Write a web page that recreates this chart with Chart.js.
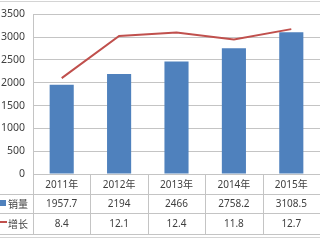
<!DOCTYPE html>
<html>
<head>
<meta charset="utf-8">
<script src="https://cdn.jsdelivr.net/npm/chart.js@4"></script>
<style>
  html, body { margin: 0; padding: 0; background: #fff; overflow: hidden; }
  #wrap { width: 320px; height: 240px; position: relative; }
</style>
</head>
<body>
<div id="wrap"><canvas id="chart" width="320" height="240"></canvas></div>
<script>
const years = ['2011年', '2012年', '2013年', '2014年', '2015年'];
const sales = [1957.7, 2194, 2466, 2758.2, 3108.5];
const growth = [8.4, 12.1, 12.4, 11.8, 12.7];
const salesText = ['1957.7', '2194', '2466', '2758.2', '3108.5'];
const growthText = ['8.4', '12.1', '12.4', '11.8', '12.7'];

const blue = '#4F81BD';
const red = '#C0504D';
const textColor = '#404040';
const lineGray = '#c4c4c4';
const font = '10px "Noto Sans", "Noto Sans CJK SC", sans-serif';

// draws the data table under the plot, like Excel does
const dataTable = {
    id: 'dataTable',
    afterDraw(chart) {
        const ctx = chart.ctx;
        const area = chart.chartArea;
        const colW = (area.right - area.left) / years.length;
        const rows = [area.bottom, 194, 213, 234];

        ctx.save();
        ctx.strokeStyle = lineGray;
        ctx.lineWidth = 1;

        // horizontal lines
        ctx.beginPath();
        ctx.moveTo(area.left, rows[0] + 0.5);
        ctx.lineTo(area.right, rows[0] + 0.5);
        for (let r = 1; r < rows.length; r++) {
            ctx.moveTo(0, rows[r] + 0.5);
            ctx.lineTo(area.right, rows[r] + 0.5);
        }
        // vertical lines
        for (let i = 0; i <= years.length; i++) {
            const x = Math.round(area.left + i * colW) + 0.5;
            ctx.moveTo(x, rows[0]);
            ctx.lineTo(x, rows[3]);
        }
        ctx.stroke();

        // outer frame lines top and bottom
        ctx.strokeStyle = '#d4d4d4';
        ctx.beginPath();
        ctx.moveTo(0, 1.5);
        ctx.lineTo(320, 1.5);
        ctx.moveTo(0, 237.5);
        ctx.lineTo(320, 237.5);
        ctx.stroke();

        // cell text
        ctx.fillStyle = textColor;
        ctx.font = font;
        ctx.textAlign = 'center';
        ctx.textBaseline = 'middle';
        for (let i = 0; i < years.length; i++) {
            const cx = area.left + (i + 0.5) * colW;
            ctx.fillText(years[i], cx, (rows[0] + rows[1]) / 2 + 1);
            ctx.fillText(salesText[i], cx, (rows[1] + rows[2]) / 2 + 1);
            ctx.fillText(growthText[i], cx, (rows[2] + rows[3]) / 2 + 1);
        }

        // row headers with legend keys
        ctx.textAlign = 'left';
        ctx.fillStyle = blue;
        ctx.fillRect(0, 200, 6, 6);
        ctx.strokeStyle = red;
        ctx.lineWidth = 2;
        ctx.beginPath();
        ctx.moveTo(0, 222);
        ctx.lineTo(7, 222);
        ctx.stroke();
        ctx.fillStyle = textColor;
        ctx.font = '10px "Noto Sans CJK SC", sans-serif';
        ctx.fillText('销量', 8, (rows[1] + rows[2]) / 2 + 1);
        ctx.fillText('增长', 8, (rows[2] + rows[3]) / 2 + 1);
        ctx.restore();
    }
};

new Chart(document.getElementById('chart'), {
    type: 'bar',
    data: {
        labels: years,
        datasets: [
            {
                type: 'line',
                label: '增长',
                data: growth,
                yAxisID: 'y2',
                borderColor: red,
                borderWidth: 2,
                pointRadius: 0,
                tension: 0,
                order: 0
            },
            {
                label: '销量',
                data: sales,
                yAxisID: 'y',
                backgroundColor: blue,
                categoryPercentage: 1,
                barPercentage: 0.42,
                order: 1
            }
        ]
    },
    options: {
        responsive: false,
        animation: false,
        layout: { padding: { top: 13, right: 0, left: 0, bottom: 0 } },
        plugins: {
            legend: { display: false },
            tooltip: { enabled: false }
        },
        scales: {
            x: {
                offset: true,
                grid: { display: false },
                border: { display: false },
                ticks: { display: false },
                afterFit(scale) { scale.height = 66; }
            },
            y: {
                min: 0,
                max: 3500,
                ticks: {
                    stepSize: 500,
                    color: textColor,
                    font: { family: '"Noto Sans", sans-serif', size: 10.5 },
                    padding: 8,
                    callback: v => String(v)
                },
                grid: { color: lineGray, drawTicks: false },
                border: { color: lineGray },
                afterFit(scale) { scale.width = 33; }
            },
            y2: {
                min: 0,
                max: 14,
                display: false
            }
        }
    },
    plugins: [dataTable]
});
</script>
</body>
</html>
